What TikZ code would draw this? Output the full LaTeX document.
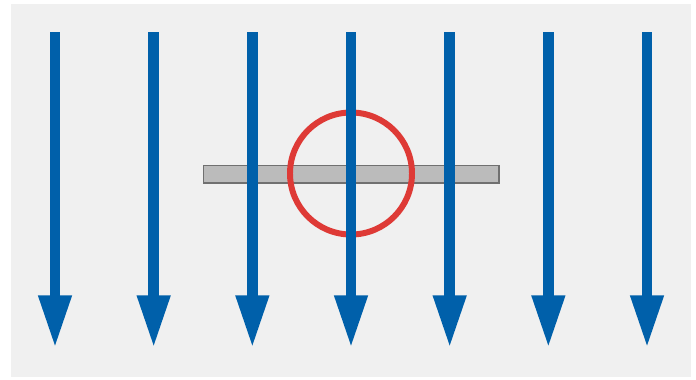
\documentclass[tikz,border=0pt]{standalone}
\usepackage{tikz}
\usetikzlibrary{arrows.meta}

\definecolor{fieldblue}{HTML}{0060AA}
\definecolor{ringred}{HTML}{DE3A36}
\definecolor{bggray}{HTML}{F0F0F0}
\definecolor{bargray}{HTML}{BBBBBB}

\begin{document}
\begin{tikzpicture}[x=0.02cm, y=-0.02cm,
  fieldline/.style={fieldblue, line width=6pt, -{Triangle[length=30pt, width=17.6pt]}}]
  \useasboundingbox (0,0) rectangle (696,379);
  \fill [bggray] (11,4) rectangle (691,377);
  % conductor
  \draw [bargray!60!black, fill=bargray, line width=0.6pt] (203.5,165.5) rectangle (499,183);
  % loop
  \draw [ringred, line width=3.4pt] (351,173.5) circle [radius=61];
  % field lines
  \foreach \i in {0,...,6} {
    \coordinate (top\i) at (55+98.67*\i,32);
    \coordinate (bot\i) at (55+98.67*\i,348);
    \draw [fieldline] (top\i) -- (bot\i);
  }
\end{tikzpicture}
\end{document}
